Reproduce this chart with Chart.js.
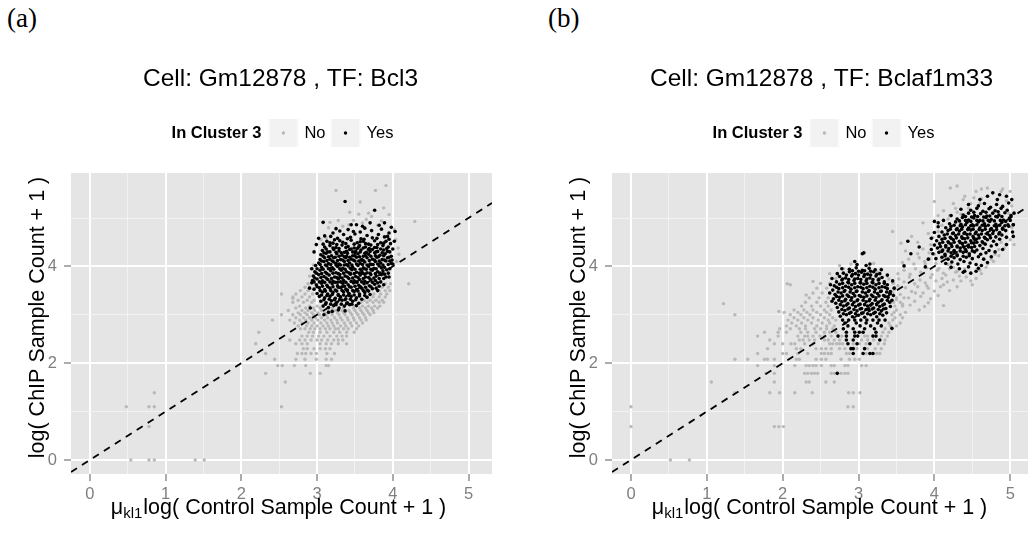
<!DOCTYPE html>
<html>
<head>
<meta charset="utf-8">
<script src="https://cdn.jsdelivr.net/npm/chart.js@4.4.1/dist/chart.umd.min.js"></script>
<style>
  html, body { margin: 0; padding: 0; background: #ffffff; }
  body { width: 1028px; height: 533px; overflow: hidden; position: relative; }
  .fig { position: absolute; top: 0; width: 514px; height: 533px; }
  .tag { position: absolute; top: 5px; font-family: "Liberation Serif", "DejaVu Serif", serif;
         font-size: 27px; line-height: 27px; color: #000; }
</style>
</head>
<body>
<div class="tag" style="left:7px">(a)</div>
<div class="tag" style="left:548px">(b)</div>
<div class="fig" style="left:0px"><canvas id="chartA" width="514" height="533"></canvas></div>
<div class="fig" style="left:541px"><canvas id="chartB" width="514" height="533"></canvas></div>
<script>
// ---- labels -------------------------------------------------------------
const panelTitles = ['Cell: Gm12878 , TF: Bcl3', 'Cell: Gm12878 , TF: Bclaf1m33'];
const legendTitle = 'In Cluster 3';
const groupLabels = ['No', 'Yes'];
const yAxisTitle = 'log( ChIP Sample Count + 1 )';
const xAxisTitleParts = ['\u03bc', 'kl1', 'log( Control Sample Count + 1 )'];

// ---- axes ---------------------------------------------------------------
const xMajor = [0, 1, 2, 3, 4, 5];
const xMinor = [0.5, 1.5, 2.5, 3.5, 4.5];
const yMajor = [0, 2, 4];
const yMinor = [1, 3, 5];
const xLimA = [-0.25, 5.31];
const yLimA = [-0.29, 5.93];
const xLimB = [-0.25, 5.30];
const yLimB = [-0.29, 5.93];
// reference line y = intercept + slope * x
const refIntercept = 0;
const refSlope = 1;

// ---- panel (a): Bcl3, x/y pairs -------------------------------------------
const aNo = [
  0.48,1.10, 0.78,1.10, 0.85,1.10, 0.85,1.39, 0.78,0.69, 0.54,0, 0.78,0, 0.85,0, 1.39,0, 1.51,0,
  2.53,1.10, 2.58,1.61, 2.32,1.79, 2.91,1.79, 3.04,1.79,
  2.48,1.95, 2.54,1.95, 2.70,1.95, 2.85,1.95, 3.12,1.95, 3.15,1.95,
  2.44,2.08, 2.72,2.08, 2.84,2.08, 2.99,2.08, 3.12,2.08, 3.19,2.08,
  2.32,2.20, 2.74,2.20, 2.80,2.20, 2.85,2.20, 2.92,2.20, 2.99,2.20, 3.13,2.20, 3.23,2.20,
  2.82,2.30, 2.87,2.30, 2.96,2.30, 3.04,2.30, 3.11,2.30, 3.17,2.30,
  2.19,2.40, 2.72,2.40, 2.80,2.40, 2.87,2.40, 3.04,2.40, 3.12,2.40, 3.19,2.40, 3.28,2.40, 3.39,2.40,
  2.64,2.48, 2.77,2.48, 2.84,2.48, 2.92,2.48, 3.00,2.48, 3.06,2.48, 3.14,2.48, 3.22,2.48, 3.28,2.48, 3.34,2.48,
  2.80,2.56, 2.87,2.56, 2.94,2.56, 3.02,2.56, 3.09,2.56, 3.17,2.56, 3.26,2.56, 3.33,2.56, 3.39,2.56,
  2.23,2.64, 2.89,2.64, 2.95,2.64, 3.04,2.64, 3.13,2.64, 3.22,2.64, 3.30,2.64, 3.39,2.64, 3.49,2.64,
  2.78,2.71, 2.84,2.71, 2.91,2.71, 2.97,2.71, 3.04,2.71, 3.11,2.71, 3.17,2.71, 3.24,2.71, 3.28,2.71, 3.35,2.71, 3.41,2.71, 3.52,2.71,
  2.75,2.77, 2.86,2.77, 2.93,2.77, 3.00,2.77, 3.08,2.77, 3.15,2.77, 3.22,2.77, 3.31,2.77, 3.38,2.77, 3.46,2.77, 3.55,2.77,
  2.70,2.83, 2.80,2.83, 2.88,2.83, 2.96,2.83, 3.05,2.83, 3.13,2.83, 3.20,2.83, 3.27,2.83, 3.36,2.83, 3.44,2.83, 3.52,2.83, 3.60,2.83,
  2.41,2.89, 2.64,2.89, 2.77,2.89, 2.85,2.89, 2.93,2.89, 3.01,2.89, 3.10,2.89, 3.18,2.89, 3.26,2.89, 3.33,2.89, 3.41,2.89, 3.49,2.89, 3.58,2.89, 3.65,2.89,
  2.72,2.94, 2.82,2.94, 2.90,2.94, 2.98,2.94, 3.06,2.94, 3.14,2.94, 3.23,2.94, 3.31,2.94, 3.40,2.94, 3.48,2.94, 3.56,2.94, 3.64,2.94,
  2.53,3.00, 2.68,3.00, 2.78,3.00, 2.87,3.00, 2.95,3.00, 3.03,3.00, 3.12,3.00, 3.20,3.00, 3.29,3.00, 3.37,3.00, 3.46,3.00, 3.54,3.00, 3.62,3.00, 3.70,3.00,
  2.75,3.04, 2.84,3.04, 2.93,3.04, 3.01,3.04, 3.10,3.04, 3.18,3.04, 3.27,3.04, 3.35,3.04, 3.44,3.04, 3.52,3.04, 3.60,3.04, 3.68,3.04, 3.75,3.04,
  2.62,3.09, 2.80,3.09, 2.88,3.09, 2.97,3.09, 3.06,3.09, 3.15,3.09, 3.24,3.09, 3.33,3.09, 3.42,3.09, 3.50,3.09, 3.58,3.09, 3.66,3.09, 3.74,3.09,
  2.72,3.14, 2.85,3.14, 2.95,3.14, 3.04,3.14, 3.20,3.14, 3.35,3.14, 3.48,3.14, 3.56,3.14, 3.64,3.14, 3.72,3.14, 3.80,3.14,
  2.77,3.18, 2.90,3.18, 3.00,3.18, 3.50,3.18, 3.60,3.18, 3.68,3.18, 3.76,3.18, 3.83,3.18,
  2.68,3.26, 2.82,3.26, 2.93,3.26, 3.58,3.26, 3.66,3.26, 3.74,3.26, 3.82,3.26, 3.88,3.26,
  2.75,3.30, 2.87,3.30, 2.96,3.30, 3.62,3.30, 3.70,3.30, 3.78,3.30, 3.86,3.30, 2.68,3.34,
  2.68,3.37, 2.80,3.37, 2.90,3.37, 3.66,3.37, 3.74,3.37, 3.82,3.37, 3.90,3.37,
  2.53,3.43, 2.72,3.43, 2.84,3.43, 2.94,3.43, 3.75,3.43, 3.84,3.43, 3.92,3.43,
  2.78,3.50, 2.88,3.50, 3.82,3.50, 3.90,3.50, 3.96,3.50,
  2.84,3.57, 2.90,3.57, 3.86,3.57, 3.94,3.57,
  2.88,3.64, 3.90,3.64, 3.97,3.64, 4.21,3.64,
  2.92,3.95, 2.90,3.80, 2.95,4.03, 4.05,4.10, 4.08,4.25, 4.07,4.38, 3.05,4.55, 4.04,4.55,
  3.12,4.59, 4.02,4.76, 3.15,4.80, 3.34,4.83, 3.42,4.86, 3.80,4.85, 3.60,4.90, 3.17,4.91,
  3.85,4.94, 3.48,4.95, 3.28,4.95, 3.65,4.97, 3.72,5.03, 3.95,5.07, 3.55,5.08, 3.68,5.10,
  3.43,5.12, 3.88,5.21, 3.57,5.33, 3.25,5.57, 3.77,5.57, 3.91,5.67, 4.29,4.93
];
const aYes = [
  3.37,5.34, 3.76,5.16, 3.08,4.91, 3.89,4.90, 3.52,4.86, 3.98,4.81, 3.41,4.76, 3.63,4.79,
  3.21,4.69, 4.03,4.72, 3.72,4.74, 3.48,4.72, 3.85,4.77, 3.57,4.71, 3.30,4.73, 3.95,4.69,
  3.18,4.62, 3.27,4.58, 3.35,4.66, 3.44,4.60, 3.50,4.67, 3.58,4.57, 3.66,4.64, 3.73,4.59, 3.81,4.66, 3.89,4.61, 3.95,4.56,
  2.99,4.45, 3.13,4.52, 3.21,4.48, 3.30,4.53, 3.38,4.47, 3.45,4.54, 3.53,4.49, 3.61,4.52, 3.68,4.46, 3.76,4.53, 3.84,4.49, 3.91,4.52, 3.97,4.47,
  3.10,4.40, 3.17,4.43, 3.25,4.39, 3.33,4.44, 3.41,4.41, 3.49,4.38, 3.56,4.43, 3.64,4.40, 3.71,4.44, 3.79,4.39, 3.87,4.43, 3.94,4.40,
  3.07,4.33, 3.14,4.30, 3.22,4.35, 3.29,4.32, 3.36,4.29, 3.43,4.35, 3.51,4.31, 3.58,4.34, 3.65,4.29, 3.73,4.35, 3.80,4.31, 3.88,4.34, 3.96,4.30, 4.00,4.36,
  3.05,4.24, 3.12,4.27, 3.19,4.22, 3.26,4.26, 3.33,4.23, 3.40,4.27, 3.47,4.22, 3.54,4.26, 3.61,4.21, 3.68,4.25, 3.76,4.28, 3.83,4.23, 3.90,4.26, 3.98,4.21,
  3.04,4.14, 3.10,4.18, 3.17,4.15, 3.24,4.19, 3.31,4.14, 3.38,4.18, 3.45,4.15, 3.52,4.19, 3.59,4.14, 3.66,4.18, 3.73,4.15, 3.79,4.19, 3.86,4.14, 3.93,4.18, 3.99,4.13,
  3.02,4.07, 3.09,4.10, 3.15,4.06, 3.22,4.09, 3.29,4.05, 3.36,4.10, 3.43,4.07, 3.50,4.11, 3.57,4.06, 3.63,4.09, 3.70,4.05, 3.77,4.10, 3.84,4.07, 3.91,4.11, 3.98,4.06,
  2.98,4.02, 3.06,3.98, 3.13,4.01, 3.20,3.97, 3.27,4.00, 3.34,3.96, 3.41,4.01, 3.47,3.98, 3.54,4.02, 3.61,3.97, 3.68,4.00, 3.75,3.96, 3.82,4.01, 3.89,3.98, 3.96,3.95,
  2.97,3.89, 3.04,3.92, 3.11,3.88, 3.18,3.91, 3.25,3.87, 3.32,3.92, 3.39,3.89, 3.46,3.93, 3.52,3.88, 3.59,3.91, 3.66,3.87, 3.73,3.92, 3.80,3.89, 3.87,3.91, 3.94,3.86,
  2.95,3.80, 3.02,3.83, 3.09,3.79, 3.16,3.82, 3.23,3.78, 3.30,3.83, 3.37,3.80, 3.44,3.84, 3.51,3.79, 3.57,3.82, 3.64,3.78, 3.71,3.83, 3.78,3.80, 3.85,3.83, 3.91,3.78,
  2.94,3.71, 3.00,3.74, 3.07,3.70, 3.14,3.73, 3.21,3.69, 3.28,3.74, 3.35,3.71, 3.42,3.75, 3.49,3.70, 3.56,3.73, 3.63,3.69, 3.70,3.74, 3.77,3.71, 3.84,3.68,
  2.93,3.66, 2.99,3.62, 3.06,3.65, 3.13,3.61, 3.20,3.64, 3.27,3.60, 3.34,3.65, 3.41,3.62, 3.48,3.66, 3.55,3.61, 3.62,3.64, 3.69,3.60, 3.76,3.63, 3.82,3.59,
  2.96,3.53, 3.03,3.56, 3.10,3.52, 3.17,3.55, 3.24,3.51, 3.31,3.56, 3.38,3.53, 3.45,3.57, 3.52,3.52, 3.59,3.55, 3.66,3.51, 3.73,3.54, 3.78,3.55,
  3.00,3.44, 3.07,3.47, 3.14,3.43, 3.21,3.46, 3.28,3.42, 3.35,3.47, 3.42,3.44, 3.49,3.48, 3.56,3.43, 3.63,3.46, 3.70,3.42,
  3.03,3.38, 3.10,3.35, 3.17,3.38, 3.24,3.34, 3.31,3.37, 3.38,3.33, 3.45,3.38, 3.52,3.35, 3.59,3.32,
  3.05,3.28, 3.12,3.25, 3.19,3.29, 3.26,3.26, 3.33,3.30, 3.40,3.25, 3.47,3.28, 3.55,3.24,
  3.08,3.18, 3.15,3.15, 3.22,3.19, 3.29,3.14, 3.36,3.18, 3.43,3.21,
  2.91,3.14, 3.09,3.00, 3.28,3.10, 3.20,3.07,
  3.36,4.03, 3.50,3.94, 3.44,3.85, 3.58,4.13, 3.30,3.77, 3.65,3.94, 3.39,4.21, 3.53,3.68, 3.72,4.04, 3.25,4.03,
  3.47,4.30, 3.60,3.86, 3.33,3.58, 3.77,4.22, 3.18,3.96, 3.68,4.35, 3.40,3.49, 3.55,4.40, 3.85,3.97, 3.27,3.67,
  3.23,4.55, 3.40,4.57, 3.62,4.56, 3.79,4.58,
  3.08,4.46, 3.17,4.49, 3.26,4.45, 3.34,4.50, 3.49,4.46, 3.57,4.51, 3.64,4.47, 3.80,4.45, 3.88,4.48,
  3.12,4.36, 3.21,4.38, 3.29,4.37, 3.38,4.39, 3.45,4.36, 3.53,4.37, 3.61,4.38, 3.69,4.37, 3.76,4.39, 3.84,4.36, 3.92,4.37,
  3.09,4.28, 3.17,4.30, 3.25,4.29, 3.32,4.28, 3.39,4.31, 3.50,4.28, 3.57,4.30, 3.63,4.27, 3.70,4.31, 3.78,4.30, 3.86,4.28, 3.93,4.31,
  3.08,4.21, 3.15,4.20, 3.22,4.18, 3.29,4.21, 3.36,4.20, 3.43,4.19, 3.50,4.22, 3.56,4.20, 3.64,4.22, 3.71,4.21, 3.81,4.20, 3.88,4.22, 3.95,4.19,
  3.06,4.11, 3.13,4.12, 3.20,4.11, 3.27,4.12, 3.34,4.13, 3.41,4.12, 3.48,4.13, 3.55,4.11, 3.61,4.12, 3.69,4.12, 3.76,4.13, 3.82,4.11, 3.89,4.13, 3.96,4.11,
  3.04,4.04, 3.11,4.03, 3.18,4.04, 3.25,4.06, 3.31,4.03, 3.39,4.04, 3.46,4.03, 3.52,4.05, 3.60,4.04, 3.66,4.03, 3.74,4.04, 3.80,4.05, 3.87,4.03, 3.94,4.04,
  3.00,3.95, 3.08,3.94, 3.15,3.95, 3.22,3.94, 3.30,3.95, 3.37,3.94, 3.44,3.96, 3.57,3.94, 3.63,3.95, 3.71,3.94, 3.78,3.95, 3.92,3.93,
  2.99,3.86, 3.06,3.85, 3.13,3.85, 3.21,3.86, 3.28,3.85, 3.35,3.86, 3.42,3.87, 3.49,3.85, 3.56,3.86, 3.63,3.84, 3.70,3.86, 3.77,3.85, 3.83,3.86, 3.89,3.84,
  2.97,3.76, 3.05,3.77, 3.12,3.76, 3.19,3.75, 3.26,3.77, 3.33,3.76, 3.40,3.78, 3.47,3.76, 3.54,3.77, 3.61,3.75, 3.68,3.77, 3.75,3.76, 3.82,3.75, 3.88,3.75,
  2.96,3.68, 3.03,3.68, 3.10,3.67, 3.17,3.68, 3.24,3.67, 3.31,3.68, 3.38,3.67, 3.45,3.69, 3.52,3.67, 3.59,3.68, 3.66,3.66, 3.73,3.67, 3.80,3.66,
  3.00,3.58, 3.07,3.59, 3.14,3.58, 3.21,3.58, 3.28,3.57, 3.36,3.59, 3.43,3.58, 3.50,3.59, 3.57,3.58, 3.64,3.57, 3.71,3.58,
  3.04,3.50, 3.11,3.49, 3.18,3.50, 3.26,3.49, 3.33,3.50, 3.40,3.51, 3.47,3.50, 3.54,3.49, 3.61,3.50, 3.68,3.49,
  3.06,3.41, 3.13,3.40, 3.20,3.42, 3.28,3.40, 3.35,3.41, 3.42,3.40, 3.49,3.41, 3.56,3.39, 3.63,3.40,
  3.09,3.31, 3.16,3.32, 3.23,3.31, 3.30,3.32, 3.37,3.31, 3.44,3.32, 3.51,3.31,
  3.11,3.22, 3.18,3.22, 3.25,3.21, 3.32,3.22, 3.39,3.23, 3.46,3.22,
  3.02,4.58, 3.10,4.63, 2.96,4.30, 2.93,3.95, 2.90,3.55, 3.93,4.62, 4.02,4.52, 4.00,4.05, 3.95,3.78, 3.88,3.62,
  3.80,3.50, 3.66,3.36, 3.52,3.19, 3.37,3.08, 3.15,3.05, 3.25,4.78, 3.60,4.83, 3.82,4.85, 3.70,4.90, 3.45,4.86
];

// ---- panel (b): Bclaf1m33, x/y pairs ----------------------------------------
const bNo = [
  0.00,1.10, 0.00,0.69, 0.52,0, 0.77,0,
  1.89,0.69, 1.95,0.69, 2.01,0.69, 2.86,1.10, 2.93,1.10,
  1.37,1.39, 1.83,1.39, 1.96,1.39, 2.16,1.39, 2.39,1.39, 2.87,1.39, 2.93,1.39, 3.02,1.39,
  1.06,1.61, 1.89,1.61, 2.31,1.61, 2.35,1.61, 2.57,1.61, 2.68,1.61,
  1.78,1.79, 1.89,1.79, 2.29,1.79, 2.33,1.79, 2.38,1.79, 2.42,1.79, 2.46,1.79, 2.64,1.79, 2.68,1.79, 2.77,1.79, 2.82,1.79, 2.86,1.79,
  1.67,1.95, 1.89,1.95, 2.16,1.95, 2.31,1.95, 2.35,1.95, 2.40,1.95, 2.44,1.95, 2.51,1.95, 2.64,1.95, 2.68,1.95, 2.82,1.95, 2.86,1.95, 3.04,1.95, 3.10,1.95,
  1.37,2.08, 1.54,2.08, 1.76,2.08, 1.80,2.08, 1.89,2.08, 2.18,2.08, 2.22,2.08, 2.44,2.08, 2.51,2.08, 2.57,2.08, 2.77,2.08, 2.88,2.08, 2.95,2.08, 3.01,2.08,
  1.67,2.20, 2.00,2.20, 2.05,2.20, 2.20,2.20, 2.33,2.20, 2.51,2.20, 2.55,2.20, 2.60,2.20, 2.64,2.20, 2.84,2.20, 2.88,2.20, 3.10,2.20, 3.24,2.20, 3.28,2.20,
  1.80,2.30, 2.18,2.30, 2.24,2.30, 2.44,2.30, 2.51,2.30, 2.57,2.30, 2.64,2.30, 2.75,2.30, 2.82,2.30, 2.98,2.30, 3.12,2.30, 3.22,2.30, 3.30,2.30,
  1.89,2.40, 2.00,2.40, 2.11,2.40, 2.16,2.40, 2.29,2.40, 2.40,2.40, 2.62,2.40, 2.66,2.40, 2.71,2.40, 2.75,2.40, 2.79,2.40, 2.93,2.40, 3.01,2.40, 3.10,2.40, 3.26,2.40, 3.34,2.40,
  1.83,2.48, 2.22,2.48, 2.27,2.48, 2.35,2.48, 2.42,2.48, 2.55,2.48, 2.60,2.48, 2.68,2.48, 2.75,2.48, 3.04,2.48, 3.12,2.48, 3.20,2.48, 3.35,2.48,
  1.67,2.56, 1.94,2.56, 2.20,2.56, 2.29,2.56, 2.33,2.56, 2.40,2.56, 2.49,2.56, 2.55,2.56, 2.64,2.56, 2.78,2.56, 3.08,2.56, 3.12,2.56, 3.30,2.56, 3.38,2.56,
  1.76,2.64, 1.94,2.64, 2.05,2.64, 2.24,2.64, 2.33,2.64, 2.44,2.64, 2.55,2.64, 2.62,2.64, 2.70,2.64, 3.32,2.64, 3.40,2.64,
  1.96,2.71, 2.10,2.71, 2.22,2.71, 2.30,2.71, 2.42,2.71, 2.50,2.71, 2.58,2.71, 2.66,2.71, 3.35,2.71, 3.44,2.71,
  2.05,2.77, 2.18,2.77, 2.30,2.77, 2.45,2.77, 2.58,2.77, 2.68,2.77, 3.42,2.77, 3.50,2.77,
  2.12,2.83, 2.25,2.83, 2.38,2.83, 2.52,2.83, 2.62,2.83, 3.40,2.83, 3.55,2.83,
  2.07,2.89, 2.20,2.89, 2.33,2.89, 2.47,2.89, 2.60,2.89, 2.70,2.89, 3.45,2.89,
  2.15,2.94, 2.28,2.94, 2.40,2.94, 2.55,2.94, 2.66,2.94, 3.48,2.94, 3.58,2.94,
  2.10,3.00, 2.24,3.00, 2.36,3.00, 2.50,3.00, 2.62,3.00, 3.44,3.00, 3.55,3.00,
  2.20,3.05, 2.32,3.05, 2.45,3.05, 2.58,3.05, 3.47,3.05, 3.62,3.05, 2.02,3.05,
  2.15,3.10, 2.28,3.10, 2.40,3.10, 2.55,3.10, 2.64,3.10, 3.50,3.10,
  2.25,3.18, 2.38,3.18, 2.50,3.18, 2.60,3.18, 3.48,3.18, 3.58,3.18,
  2.30,3.26, 2.45,3.26, 2.57,3.26, 3.46,3.26, 3.55,3.26,
  2.35,3.35, 2.48,3.35, 2.60,3.35, 3.50,3.35, 3.60,3.35,
  2.40,3.45, 2.52,3.45, 2.62,3.45, 3.45,3.45,
  2.45,3.55, 2.58,3.55, 3.48,3.55, 2.50,3.65, 2.62,3.65, 3.46,3.65,
  1.22,3.23, 1.37,3.00, 1.95,3.07, 2.06,3.64, 2.10,3.62, 2.31,3.41, 2.40,3.69, 2.70,3.75,
  2.62,3.85, 2.80,3.95, 2.90,4.05, 2.75,4.02, 3.30,3.95, 3.20,4.06, 3.25,3.88, 3.38,3.80,
  3.42,3.25, 3.50,3.31, 3.58,3.22, 3.66,3.35, 3.74,3.28, 3.87,3.17, 3.82,3.38, 4.12,3.19, 3.95,3.33,
  3.40,3.45, 3.47,3.52, 3.55,3.42, 3.62,3.56, 3.70,3.48, 3.78,3.58, 3.85,3.45, 3.92,3.55, 4.00,3.49, 4.08,3.58, 3.52,3.60,
  3.45,3.66, 3.53,3.74, 3.60,3.68, 3.67,3.78, 3.74,3.64, 3.81,3.72, 3.88,3.66, 3.95,3.77, 4.02,3.70, 4.10,3.75, 4.17,3.68, 3.40,3.74,
  3.52,3.85, 3.60,3.92, 3.68,3.84, 3.75,3.95, 3.82,3.88, 3.90,3.97, 3.97,3.83, 4.04,3.92, 4.12,3.86, 4.20,3.95, 4.28,3.88,
  3.58,4.08, 3.66,4.15, 3.73,4.05, 3.80,4.18, 3.87,4.10, 3.94,4.16, 4.02,4.06, 4.10,4.14, 4.18,4.04,
  3.62,4.32, 3.78,4.26, 3.85,4.36, 3.93,4.28, 4.08,4.34,
  3.45,4.72, 3.56,4.48, 3.70,4.62, 3.85,4.90, 3.78,4.50, 3.92,4.68,
  4.21,5.62, 4.30,5.66, 4.00,5.34, 4.12,5.15, 4.25,5.30, 4.40,5.45, 4.55,5.55, 4.62,5.40, 4.70,5.62,
  4.35,5.08, 4.18,4.98, 4.05,5.05, 4.90,5.60, 5.00,5.55, 5.05,4.45, 5.02,5.25, 4.98,5.10, 4.95,4.62,
  4.85,4.35, 4.75,4.15, 4.68,3.98, 4.55,3.75, 4.42,3.78, 4.30,3.90, 4.22,4.05, 4.15,3.82, 4.60,3.92,
  4.88,4.50, 4.80,4.25, 4.12,4.58, 4.05,4.72, 4.28,5.20, 4.48,5.30,
  4.25,3.72, 4.33,3.80, 4.40,3.95, 4.48,3.70, 4.62,3.85, 4.70,4.05, 4.78,4.10, 4.85,4.22, 4.92,4.38, 5.00,4.55,
  5.02,4.80, 4.95,5.35, 4.88,5.55, 4.60,5.30, 4.45,5.20, 4.30,5.12, 4.20,5.05, 4.10,4.85, 3.98,4.60, 3.95,4.45,
  4.00,4.25, 3.88,4.05, 4.06,3.96, 4.15,4.20, 4.25,3.98, 4.35,3.70, 4.50,3.62, 4.20,3.50, 4.05,3.40, 3.92,3.25,
  3.80,3.10, 3.68,3.20, 3.75,3.45, 3.90,3.60, 4.12,3.62, 4.30,3.58, 4.38,5.38, 4.52,5.42, 4.70,5.45, 4.62,5.60
];
const bYes = [
  // upper group
  4.77,5.52, 4.86,5.48, 4.95,5.45, 4.83,5.38,
  4.58,5.25, 4.66,5.30, 4.74,5.22, 4.82,5.28, 4.90,5.24, 4.98,5.31,
  4.48,5.16, 4.56,5.20, 4.64,5.14, 4.72,5.19, 4.80,5.15, 4.88,5.20, 4.96,5.16,
  4.38,5.06, 4.45,5.10, 4.53,5.05, 4.61,5.09, 4.69,5.04, 4.77,5.10, 4.85,5.06, 4.93,5.11, 5.01,5.05,
  4.30,4.98, 4.37,5.01, 4.45,4.96, 4.52,5.00, 4.60,4.95, 4.68,5.01, 4.75,4.97, 4.83,5.02, 4.91,4.96, 4.99,5.00,
  4.05,4.90, 4.12,4.95, 4.20,4.88, 4.28,4.92, 4.35,4.87, 4.43,4.91, 4.50,4.86, 4.58,4.92, 4.66,4.88, 4.73,4.93, 4.81,4.87, 4.89,4.91, 4.97,4.86, 5.04,4.86,
  4.15,4.80, 4.22,4.83, 4.30,4.78, 4.37,4.82, 4.45,4.79, 4.52,4.84, 4.60,4.80, 4.67,4.83, 4.75,4.78, 4.82,4.82, 4.90,4.79, 4.98,4.83,
  4.10,4.71, 4.18,4.74, 4.25,4.69, 4.33,4.73, 4.40,4.70, 4.48,4.75, 4.55,4.71, 4.63,4.74, 4.70,4.69, 4.78,4.73, 4.86,4.70, 4.94,4.74, 5.03,4.71,
  4.06,4.62, 4.13,4.65, 4.21,4.60, 4.28,4.64, 4.36,4.61, 4.43,4.66, 4.51,4.62, 4.58,4.65, 4.66,4.60, 4.73,4.64, 4.81,4.61, 4.89,4.65, 4.95,4.60,
  4.03,4.53, 4.10,4.56, 4.18,4.51, 4.25,4.55, 4.33,4.52, 4.40,4.57, 4.48,4.53, 4.55,4.56, 4.63,4.51, 4.70,4.55, 4.78,4.52, 4.86,4.56,
  4.00,4.44, 4.07,4.47, 4.15,4.43, 4.22,4.46, 4.30,4.42, 4.37,4.47, 4.45,4.44, 4.52,4.48, 4.60,4.43, 4.67,4.46, 4.75,4.42, 4.82,4.45,
  3.96,4.35, 4.04,4.38, 4.11,4.34, 4.19,4.37, 4.26,4.33, 4.34,4.38, 4.41,4.35, 4.49,4.39, 4.56,4.34, 4.64,4.37, 4.72,4.33,
  3.98,4.26, 4.06,4.29, 4.14,4.25, 4.22,4.28, 4.30,4.24, 4.38,4.29, 4.46,4.26, 4.53,4.30, 4.61,4.25, 4.68,4.28,
  4.02,4.16, 4.10,4.19, 4.18,4.15, 4.26,4.18, 4.34,4.14, 4.42,4.19, 4.50,4.16, 4.58,4.20, 4.65,4.15,
  4.15,4.06, 4.23,4.09, 4.31,4.05, 4.39,4.10, 4.47,4.07, 4.55,4.04,
  4.22,3.98, 4.33,3.95, 4.45,3.99, 4.58,3.96, 4.38,3.88, 4.48,3.86, 4.55,3.90,
  3.65,4.52, 3.69,4.26, 3.60,4.01, 3.88,3.99, 4.00,4.93, 3.92,4.15, 3.80,4.40, 5.04,4.86,
  4.52,5.12, 4.68,5.12, 4.84,5.13,
  4.41,5.03, 4.49,5.02, 4.57,5.03, 4.65,5.02, 4.73,5.04, 4.81,5.03, 4.89,5.03,
  4.33,4.94, 4.41,4.95, 4.48,4.93, 4.56,4.95, 4.64,4.94, 4.71,4.95, 4.79,4.94, 4.87,4.95, 4.94,4.93,
  4.26,4.85, 4.34,4.84, 4.41,4.86, 4.48,4.84, 4.56,4.86, 4.63,4.85, 4.71,4.85, 4.79,4.84, 4.86,4.85, 4.93,4.84,
  4.21,4.77, 4.29,4.76, 4.36,4.77, 4.44,4.76, 4.51,4.77, 4.59,4.76, 4.67,4.77, 4.74,4.76, 4.82,4.76, 4.90,4.77,
  4.17,4.67, 4.24,4.68, 4.32,4.67, 4.39,4.68, 4.47,4.67, 4.54,4.68, 4.62,4.67, 4.70,4.67, 4.77,4.68, 4.85,4.67,
  4.14,4.58, 4.22,4.58, 4.29,4.59, 4.37,4.58, 4.44,4.59, 4.52,4.58, 4.59,4.59, 4.67,4.58, 4.74,4.59,
  4.11,4.50, 4.19,4.49, 4.26,4.50, 4.34,4.49, 4.41,4.50, 4.49,4.49, 4.56,4.50, 4.64,4.49,
  4.08,4.41, 4.15,4.40, 4.23,4.41, 4.30,4.40, 4.38,4.41, 4.45,4.40, 4.53,4.41,
  4.10,4.31, 4.18,4.32, 4.26,4.31, 4.34,4.32, 4.42,4.31, 4.50,4.32,
  4.14,4.22, 4.22,4.21, 4.30,4.22, 4.38,4.21, 4.46,4.22,
  4.00,4.70, 3.96,4.58, 4.05,4.82, 4.22,5.05, 4.35,5.18, 4.45,5.28, 4.60,5.38, 4.70,5.45, 5.02,5.38, 5.05,5.10,
  5.00,4.95, 5.04,4.62, 4.95,4.45, 4.90,4.35, 4.80,4.30, 4.75,4.20, 4.70,4.08, 4.62,4.02, 4.40,3.90,
  // lower group
  2.88,3.94, 2.97,3.97, 3.05,3.92, 3.14,3.96, 3.22,3.93,
  2.80,3.86, 2.88,3.89, 2.96,3.85, 3.04,3.88, 3.12,3.84, 3.20,3.89, 3.28,3.85,
  2.75,3.79, 2.83,3.76, 2.91,3.80, 2.99,3.75, 3.07,3.79, 3.15,3.76, 3.23,3.80, 3.31,3.77,
  2.71,3.68, 2.78,3.72, 2.86,3.67, 2.94,3.71, 3.02,3.66, 3.10,3.70, 3.18,3.67, 3.26,3.72, 3.34,3.68,
  2.68,3.60, 2.75,3.63, 2.83,3.59, 2.91,3.62, 2.99,3.58, 3.07,3.63, 3.15,3.59, 3.23,3.62, 3.31,3.58, 3.38,3.62,
  2.66,3.51, 2.74,3.54, 2.82,3.50, 2.90,3.53, 2.98,3.49, 3.06,3.54, 3.14,3.50, 3.22,3.53, 3.30,3.49, 3.38,3.54, 3.42,3.48,
  2.69,3.42, 2.77,3.45, 2.85,3.41, 2.93,3.44, 3.01,3.40, 3.09,3.45, 3.17,3.41, 3.25,3.44, 3.33,3.40, 3.41,3.44,
  2.67,3.33, 2.75,3.36, 2.83,3.32, 2.91,3.35, 2.99,3.31, 3.07,3.36, 3.15,3.32, 3.23,3.35, 3.31,3.31, 3.39,3.36, 3.44,3.30,
  2.70,3.24, 2.78,3.27, 2.86,3.23, 2.94,3.26, 3.02,3.22, 3.10,3.27, 3.18,3.23, 3.26,3.26, 3.34,3.22, 3.41,3.26,
  2.72,3.15, 2.80,3.18, 2.88,3.14, 2.96,3.17, 3.04,3.13, 3.12,3.18, 3.20,3.14, 3.28,3.17, 3.36,3.13, 3.42,3.17,
  2.74,3.06, 2.82,3.09, 2.90,3.05, 2.98,3.08, 3.06,3.04, 3.14,3.09, 3.22,3.05, 3.30,3.08, 3.37,3.04,
  2.76,2.97, 2.84,3.00, 2.92,2.96, 3.00,2.99, 3.08,2.95, 3.16,3.00, 3.24,2.96, 3.32,2.99,
  2.79,2.89, 2.87,2.89, 2.95,2.89, 3.03,2.89, 3.11,2.89, 3.19,2.89, 3.27,2.89, 3.35,2.89,
  2.82,2.83, 2.97,2.83, 3.10,2.83, 3.25,2.83,
  2.86,2.77, 3.02,2.77, 3.16,2.77, 3.30,2.77, 3.44,2.72,
  2.80,2.71, 2.93,2.71, 3.08,2.71, 3.21,2.71,
  2.84,2.64, 2.95,2.64, 3.01,2.64, 3.06,2.64, 3.23,2.64,
  2.73,2.56, 2.84,2.56, 2.95,2.56, 2.99,2.56, 3.19,2.56, 3.23,2.56,
  2.84,2.48, 2.93,2.48, 3.28,2.48,
  2.86,2.40, 2.98,2.40, 3.15,2.40,
  2.90,2.30, 2.93,2.30, 3.08,2.30,
  2.93,2.20, 3.06,2.20, 3.15,2.20, 3.19,2.20,
  2.72,1.79,
  3.07,4.28, 3.05,4.26, 2.95,4.10, 3.15,4.05, 2.65,3.75,
  2.92,3.91, 3.00,3.90, 3.08,3.91, 3.16,3.90,
  2.84,3.82, 2.92,3.83, 3.00,3.82, 3.08,3.83, 3.16,3.82, 3.24,3.83,
  2.79,3.74, 2.87,3.73, 2.95,3.74, 3.03,3.73, 3.11,3.74, 3.19,3.73, 3.27,3.74,
  2.79,3.65, 2.87,3.66, 2.95,3.65, 3.03,3.66, 3.11,3.65, 3.19,3.66, 3.27,3.65, 3.34,3.65,
  2.71,3.57, 2.79,3.56, 2.87,3.57, 2.95,3.56, 3.03,3.57, 3.11,3.56, 3.19,3.57, 3.27,3.56, 3.35,3.57,
  2.73,3.47, 2.81,3.48, 2.89,3.47, 2.97,3.48, 3.05,3.47, 3.13,3.48, 3.21,3.47, 3.29,3.48, 3.37,3.47,
  2.71,3.38, 2.79,3.39, 2.87,3.38, 2.95,3.39, 3.03,3.38, 3.11,3.39, 3.19,3.38, 3.27,3.39, 3.35,3.38,
  2.74,3.30, 2.82,3.29, 2.90,3.30, 2.98,3.29, 3.06,3.30, 3.14,3.29, 3.22,3.30, 3.30,3.29, 3.38,3.30,
  2.76,3.21, 2.84,3.20, 2.92,3.21, 3.00,3.20, 3.08,3.21, 3.16,3.20, 3.24,3.21, 3.32,3.20,
  2.78,3.11, 2.86,3.12, 2.94,3.11, 3.02,3.12, 3.10,3.11, 3.18,3.12, 3.26,3.11, 3.33,3.12,
  2.80,3.02, 2.88,3.03, 2.96,3.02, 3.04,3.03, 3.12,3.02, 3.20,3.03, 3.28,3.02,
  2.63,3.62, 2.62,3.45, 2.65,3.28, 3.46,3.40, 3.47,3.55, 3.45,3.70, 3.38,3.82, 3.30,3.93, 2.72,3.85, 2.78,3.95,
  3.10,4.02, 2.98,4.04
];

// ---- styles ---------------------------------------------------------------
const noColor = '#b8b8b8';
const yesColor = '#000000';
const panelFill = '#e5e5e5';
const minorGrid = '#f2f2f2';
const tickGrey = '#7f7f7f';
const sans = '"Liberation Sans", Arial, Helvetica, sans-serif';

function toPoints(flat) {
  const out = [];
  for (let i = 0; i < flat.length; i += 2) out.push({ x: flat[i], y: flat[i + 1] });
  return out;
}

// grey panel behind the grid
const panelBackground = {
  id: 'panelBackground',
  beforeDraw(chart) {
    const { ctx, chartArea: a } = chart;
    ctx.save();
    ctx.fillStyle = panelFill;
    ctx.fillRect(a.left, a.top, a.right - a.left, a.bottom - a.top);
    ctx.restore();
  }
};

// title, key and axis titles
const panelText = {
  id: 'panelText',
  afterDraw(chart, args, opts) {
    const { ctx, chartArea: a } = chart;
    const cx = (a.left + a.right) / 2;
    ctx.save();
    ctx.textBaseline = 'alphabetic';
    ctx.fillStyle = '#000';

    // title
    ctx.font = '24.5px ' + sans;
    ctx.textAlign = 'center';
    ctx.fillText(opts.title, cx - 1, 86);

    // key
    const boldFont = 'bold 16.5px ' + sans;
    const regFont = '16.5px ' + sans;
    ctx.textAlign = 'left';
    ctx.font = boldFont;
    const wTitle = ctx.measureText(legendTitle).width;
    ctx.font = regFont;
    const wLab = groupLabels.map(t => ctx.measureText(t).width);
    const key = 30, gapA = 7, gapB = 6, gapC = 5;
    const total = wTitle + gapA + key + gapB + wLab[0] + gapC + key + gapB + wLab[1];
    let x = cx - total / 2 + 1;
    const base = 138, boxTop = 118;
    ctx.font = boldFont;
    ctx.fillText(legendTitle, x, base);
    x += wTitle + gapA;
    [noColor, yesColor].forEach((col, i) => {
      ctx.fillStyle = '#f2f2f2';
      ctx.fillRect(x, boxTop, key, key);
      ctx.strokeStyle = '#ffffff';
      ctx.lineWidth = 1;
      ctx.strokeRect(x + 0.5, boxTop + 0.5, key - 1, key - 1);
      ctx.fillStyle = col;
      ctx.beginPath();
      ctx.arc(x + key / 2, boxTop + key / 2, 1.7, 0, Math.PI * 2);
      ctx.fill();
      x += key + gapB;
      ctx.fillStyle = '#000';
      ctx.font = regFont;
      ctx.fillText(groupLabels[i], x, base);
      x += wLab[i] + gapC;
    });

    // y axis title
    ctx.font = '21.5px ' + sans;
    ctx.textAlign = 'center';
    ctx.save();
    ctx.translate(a.left - 27, (a.top + a.bottom) / 2 - 6);
    ctx.rotate(-Math.PI / 2);
    ctx.fillText(yAxisTitle, 0, 0);
    ctx.restore();

    // x axis title with subscript
    const mainFont = '21.5px ' + sans, subFont = '15px ' + sans;
    ctx.textAlign = 'left';
    ctx.font = mainFont;
    const wMu = ctx.measureText(xAxisTitleParts[0]).width;
    const wMain = ctx.measureText(xAxisTitleParts[2]).width;
    ctx.font = subFont;
    const wSub = ctx.measureText(xAxisTitleParts[1]).width;
    let tx = cx - 3 - (wMu + wSub + 1 + wMain) / 2;
    const xb = 514;
    ctx.font = mainFont;
    ctx.fillText(xAxisTitleParts[0], tx, xb);
    tx += wMu;
    ctx.font = subFont;
    ctx.fillText(xAxisTitleParts[1], tx, xb + 4);
    tx += wSub + 1;
    ctx.font = mainFont;
    ctx.fillText(xAxisTitleParts[2], tx, xb);
    ctx.restore();
  }
};

function axis(lim, major, minor, isX) {
  const all = major.concat(minor).sort((p, q) => p - q);
  const isMajor = v => major.includes(v);
  return {
    type: 'linear',
    min: lim[0],
    max: lim[1],
    afterBuildTicks: s => { s.ticks = all.map(v => ({ value: v })); },
    afterFit: s => { if (isX) s.height = 59; else s.width = 71; },
    border: { display: false },
    grid: {
      color: c => (c.tick && isMajor(c.tick.value)) ? '#ffffff' : minorGrid,
      lineWidth: c => (c.tick && isMajor(c.tick.value)) ? 2 : 1,
      tickColor: c => (c.tick && isMajor(c.tick.value)) ? tickGrey : 'rgba(0,0,0,0)',
      tickWidth: 1.3,
      tickLength: 7,
      drawTicks: true
    },
    ticks: {
      autoSkip: false,
      maxRotation: 0,
      padding: isX ? 4 : 7,
      color: tickGrey,
      font: { family: sans, size: 16.5 },
      callback: v => isMajor(v) ? String(v) : ''
    },
    title: { display: false }
  };
}

function makeChart(id, title, xLim, yLim, noPts, yesPts) {
  const refLine = xLim.map(x => ({ x: x, y: refIntercept + refSlope * x }));
  return new Chart(document.getElementById(id), {
    type: 'scatter',
    data: {
      datasets: [
        { label: 'y = x', data: refLine, showLine: true, borderColor: '#000', borderWidth: 1.8,
          borderDash: [7, 6], pointRadius: 0, fill: false },
        { label: groupLabels[1], data: toPoints(yesPts), backgroundColor: yesColor,
          pointRadius: 1.8, pointBorderWidth: 0, borderWidth: 0 },
        { label: groupLabels[0], data: toPoints(noPts), backgroundColor: noColor,
          pointRadius: 1.7, pointBorderWidth: 0, borderWidth: 0 }
      ]
    },
    options: {
      responsive: false,
      animation: false,
      devicePixelRatio: 1,
      events: [],
      layout: { padding: { top: 173, right: 22, bottom: 0, left: 0 } },
      plugins: {
        legend: { display: false },
        tooltip: { enabled: false },
        title: { display: false },
        panelText: { title: title }
      },
      scales: {
        x: axis(xLim, xMajor, xMinor, true),
        y: axis(yLim, yMajor, yMinor, false)
      }
    },
    plugins: [panelBackground, panelText]
  });
}

makeChart('chartA', panelTitles[0], xLimA, yLimA, aNo, aYes);
makeChart('chartB', panelTitles[1], xLimB, yLimB, bNo, bYes);
</script>
</body>
</html>
